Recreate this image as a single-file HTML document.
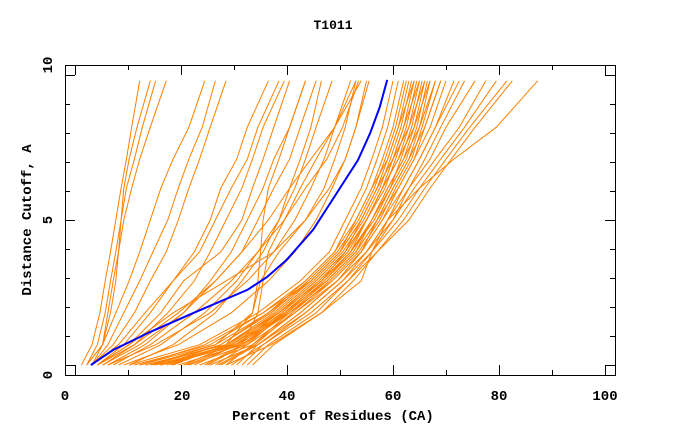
<!DOCTYPE html>
<html><head><meta charset="utf-8"><style>
html,body{margin:0;padding:0;background:#fff;}
svg{display:block;}
text{font-family:"Liberation Mono","DejaVu Sans Mono",monospace;font-weight:bold;font-size:13px;fill:#000;}
</style></head><body>
<svg id="chart" width="680" height="440" viewBox="0 0 680 440">
<text x="333" y="29" text-anchor="middle">T1011</text>
<text x="333" y="420" text-anchor="middle" style="font-size:14px">Percent of Residues (CA)</text>
<text transform="translate(31,220) rotate(-90)" text-anchor="middle" style="font-size:14px">Distance Cutoff, A</text>
<g id="series"></g>
<g id="axes"></g>
</svg>
<script>
const yLevels=[0,0.7,1.8,2.9,3.9,5,6.1,7.1,8.2,9.8];
const xTicks=[0,20,40,60,80,100];
const yTicks=[0,5,10];
const xTickLabelPos=[65,182,287,393,499,605];
const yTickLabelPos=[375,220,65];
const blueX=[3.0,7.2,14.2,22.3,32.5,36.2,39.9,44.9,49.4,53.4,55.7,57.5,58.9];
const blueY=[0,0.52,1.14,1.79,2.59,3.03,3.62,4.66,5.93,7.07,8.0,8.9,9.83];
const orangeSeries=[
[1.2,3.2,4.7,5.7,6.7,7.7,8.7,9.7,10.7,12.2],
[2.2,4.2,5.7,6.7,7.7,8.7,9.7,11.2,12.7,15.2],
[3.2,5.2,6.2,7.2,8.2,9.2,10.7,12.2,14.2,17.2],
[2.2,5.2,6.7,7.7,8.2,8.7,9.2,10.2,11.7,14.2],
[2.2,5.2,7.7,10.2,12.2,14.2,16.2,18.5,21.5,24.5],
[3.2,6.2,9.2,12.2,14.7,17.5,19.5,21.5,24,26.5],
[3.2,7.2,11.2,14.2,17.2,19.5,21.5,23.5,25.5,28.5],
[4.2,9.2,14.2,18.5,22.5,25.5,27.5,30.5,32.5,36.5],
[3.2,8.2,13.2,18.5,23.5,26.5,29.5,32.5,34.5,38.5],
[5.2,11.2,17.5,22.5,25.5,28.5,31.5,33.5,35.5,39.5],
[4.2,10.2,16.2,20.5,27.5,31.5,33.5,35.5,37.5,40.5],
[6.2,13.2,20.5,25.5,29.5,32.5,35.5,37.5,40.5,43.5],
[4.2,11.2,19.5,26.5,31.5,34.5,37.5,40.5,42.5,45.5],
[13.2,28.5,33.5,34.5,35,35.5,36.5,38.5,40.5,43.5],
[8.2,16.2,24.5,30.5,34.5,38.5,41.5,43.5,45.5,48.5],
[6.2,15.2,25.5,32.5,37.5,41.5,44.5,47,49,52],
[5.2,12.2,20.5,26.5,31.5,36.5,40.5,44.5,49,54],
[10.2,18.5,26.5,31.5,35.5,38.5,40.5,42.5,44.5,46.5],
[4.2,10.2,18.5,28.5,37.5,43.5,48,51,53,55],
[16.2,31.5,34.5,35.5,36.5,39.5,42.5,45.5,49,53],
[12.2,26.5,33.5,35,38.5,43.5,47,49,51,53],
[7.2,14.2,22.5,29.5,34.5,39.5,43.5,47.5,50.5,53.5],
[9.2,19.5,29.5,36.5,41.5,45.5,48.5,51,53,55.5],
[10.2,23.5,34.5,42.5,48,51,54,56,58,60],
[12.2,24.5,35.5,43.5,49,52,55,57,59,61],
[14.2,26.5,36.5,43.5,49,53,56,58,60,62],
[16.2,27.5,36.5,44.5,50,53,56,59,61,63],
[18.5,28.5,37.5,44.5,50,54,57,59,61,64],
[11.2,25.5,35.5,44.5,50,54,57,60,62,64],
[20.5,29.5,38.5,45.5,51,54,57,60,62,65],
[22.5,30.5,38.5,45.5,51,55,58,60,63,65],
[13.2,28.5,38.5,46.5,51,55,58,61,63,66],
[24.5,31.5,39.5,46.5,52,55,58,61,64,66],
[26.5,32.5,39.5,46.5,52,56,59,62,64,67],
[15.2,29.5,39.5,47.5,53,56,59,62,65,67],
[17.2,30.5,40.5,47.5,53,57,60,63,65,68],
[28.5,33.5,40.5,47.5,53,57,60,63,66,69],
[19.5,31.5,40.5,48.5,54,57,61,64,66,69],
[21.5,32.5,41.5,48.5,54,58,61,64,67,70],
[23.5,33.5,41.5,49.5,54,58,62,65,68,71.5],
[30.5,34.5,42.5,49.5,55,59,62,65,68,72.5],
[25.5,34.5,42.5,49.5,55,59,63,66,69,73.5],
[27.5,34.5,43.5,50.5,55,60,63,67,70,75.5],
[31.5,35.5,43.5,50.5,56,60,64,68,72.5,77.5],
[29.5,35.5,44.5,51.5,56,61,65,69,73.5,79.5],
[32.5,36.5,45.5,51.5,57,62,66,70,74.5,81.5],
[33.5,37.5,46.5,52.5,57,63,67,71,75.5,82.5],
[28.5,37,46.5,54,56,59,65,71.5,79.5,87.3],
[14.7,27.5,37,44,49.5,53.5,56.5,58.5,60.5,62.5],
[18,29,38,45,50.5,54.5,57.5,59.5,61.5,63.5],
[21,31,39,46,51.5,55,58.5,60.5,62.5,64.5],
[25,32,40,47,52.5,56,59.5,61.5,63.5,65.5],
[16,30,40,47,52,56.5,59.5,62.5,64.5,66.5],
[27,34,41,48,53.5,57.5,60.5,63.5,65.5,68]
];
const NS='http://www.w3.org/2000/svg';
const X0=75,XS=5.3,Y0=365,YS=29;
function sx(v){return X0+XS*v;}
function sy(v){return Y0-YS*v;}
const g=document.getElementById('series');
orangeSeries.forEach(function(xs,i){
  const p=document.createElementNS(NS,'polyline');
  p.setAttribute('points',xs.map(function(x,j){return sx(x).toFixed(1)+','+sy(yLevels[j]).toFixed(1);}).join(' '));
  p.setAttribute('fill','none');
  p.setAttribute('stroke','#ff8000');
  p.setAttribute('stroke-width','1');
  
  
  g.appendChild(p);
});
const b=document.createElementNS(NS,'polyline');
b.setAttribute('points',blueX.map(function(x,j){return sx(x).toFixed(1)+','+sy(blueY[j]).toFixed(1);}).join(' '));
b.setAttribute('fill','none');
b.setAttribute('stroke','#0000ff');
b.setAttribute('stroke-width','2');


g.appendChild(b);
const a=document.getElementById('axes');
function line(x1,y1,x2,y2,name){
  const l=document.createElementNS(NS,'line');
  l.setAttribute('x1',x1);
  l.setAttribute('y1',y1);
  l.setAttribute('x2',x2);
  l.setAttribute('y2',y2);
  l.setAttribute('stroke','#000');
  l.setAttribute('stroke-width','1');
  
  
  a.appendChild(l);
}
const r=document.createElementNS(NS,'rect');
r.setAttribute('x',65.5);
r.setAttribute('y',65.5);
r.setAttribute('width',550);
r.setAttribute('height',310);
r.setAttribute('fill','none');
r.setAttribute('stroke','#000');


a.appendChild(r);
for(let v=0;v<=100;v+=10){
  const x=Math.round(sx(v))+0.5, len=(v%20===0)?10:5;
  line(x,375,x,375-len,'x-tick');
  line(x,65,x,65+len,'x-tick-top');
}
for(let v=0;v<=10;v++){
  const y=Math.round(sy(v))+0.5, len=(v%5===0)?10:5;
  line(65,y,65+len,y,'y-tick');
  line(615,y,615-len,y,'y-tick-right');
}
xTicks.forEach(function(v,i){
  const t=document.createElementNS(NS,'text');
  t.setAttribute('x',xTickLabelPos[i]);
  t.setAttribute('y',400);
  t.setAttribute('text-anchor','middle');
  t.setAttribute('style','font-size:14px');
  t.textContent=v;
  
  
  a.appendChild(t);
});
yTicks.forEach(function(v,i){
  const t=document.createElementNS(NS,'text');
  t.setAttribute('transform','translate(52,'+yTickLabelPos[i]+') rotate(-90)');
  t.setAttribute('text-anchor','middle');
  t.setAttribute('style','font-size:14px');
  t.textContent=v;
  
  
  a.appendChild(t);
});
</script>
</body></html>
